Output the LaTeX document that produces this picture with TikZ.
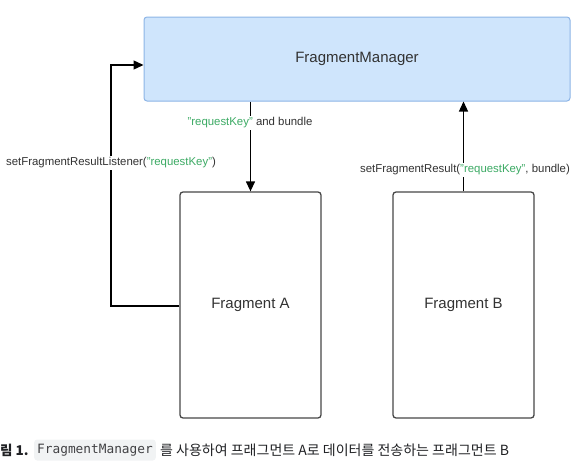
\documentclass[tikz,border=0pt]{standalone}
\usepackage{fontspec}
\setmainfont{Liberation Sans}
\newfontfamily\kofont{Noto Sans CJK KR}
\newfontfamily\monofont{DejaVu Sans Mono}
\usetikzlibrary{arrows.meta}
\definecolor{fmfill}{RGB}{207,229,252}
\definecolor{fmdraw}{RGB}{140,180,230}
\definecolor{boxdraw}{RGB}{70,70,70}
\definecolor{txt}{RGB}{50,50,50}
\definecolor{keygreen}{RGB}{60,170,100}
\definecolor{codebg}{RGB}{241,243,244}
\definecolor{captxt}{RGB}{32,33,36}
\newcommand{\rk}{\textcolor{keygreen}{"requestKey"}}
\tikzset{
  mgr/.style={draw=fmdraw, fill=fmfill, line width=1pt, rounded corners=3pt, minimum width=426pt, minimum height=84pt, font=\fontsize{15}{17}\selectfont, text=txt},
  frag/.style={draw=boxdraw, line width=1.3pt, rounded corners=3pt, minimum width=141pt, minimum height=226pt, font=\fontsize{15}{17}\selectfont, text=txt},
  lbl/.style={fill=white, inner sep=2pt, font=\fontsize{11.4}{13}\selectfont, text=txt},
  conn/.style={line width=1.3pt, black, -{Triangle[width=9pt,length=10pt]}}
}
\begin{document}
\begin{tikzpicture}[x=1pt,y=-1pt]
\useasboundingbox (0,0) rectangle (582,463);
\node[mgr] (fm) at (357,59) {FragmentManager};
\node[frag] (fa) at (250.5,305) {Fragment A};
\node[frag] (fb) at (463.5,305) {Fragment B};
\coordinate (lc) at (111,65);
\coordinate (lb) at (111,306);
\coordinate (fmleft) at (fm.west |- lc);
\draw[conn] (fa.west |- lb) -- (lb) -- (lc) -- (fmleft);
\node[lbl] (l1) at (111,163) {setFragmentResultListener(\rk)};
\draw[conn] (fm.south -| fa.north) -- (fa.north);
\node[lbl] (l2) at (250,123) {\rk{} and bundle};
\draw[conn] (fb.north) -- (fb.north |- fm.south);
\node[lbl] (l3) at (465,170) {setFragmentResult(\rk, bundle)};
% caption
\node[anchor=west, inner sep=0pt, text=captxt, font=\kofont\bfseries\fontsize{13.5}{15}\selectfont] (c1) at (0,450) {림 1.};
\node[anchor=west, fill=codebg, rounded corners=3pt, inner xsep=3pt, minimum height=21pt, text=captxt!85, font=\monofont\fontsize{12.8}{14}\selectfont] (c2) at (34,450) {FragmentManager};
\node[anchor=west, inner sep=0pt, text=captxt, font=\kofont\fontsize{14}{16}\selectfont] (c3) at ([xshift=4pt]c2.east) {를 사용하여 프래그먼트 A로 데이터를 전송하는 프래그먼트 B};
\end{tikzpicture}
\end{document}
